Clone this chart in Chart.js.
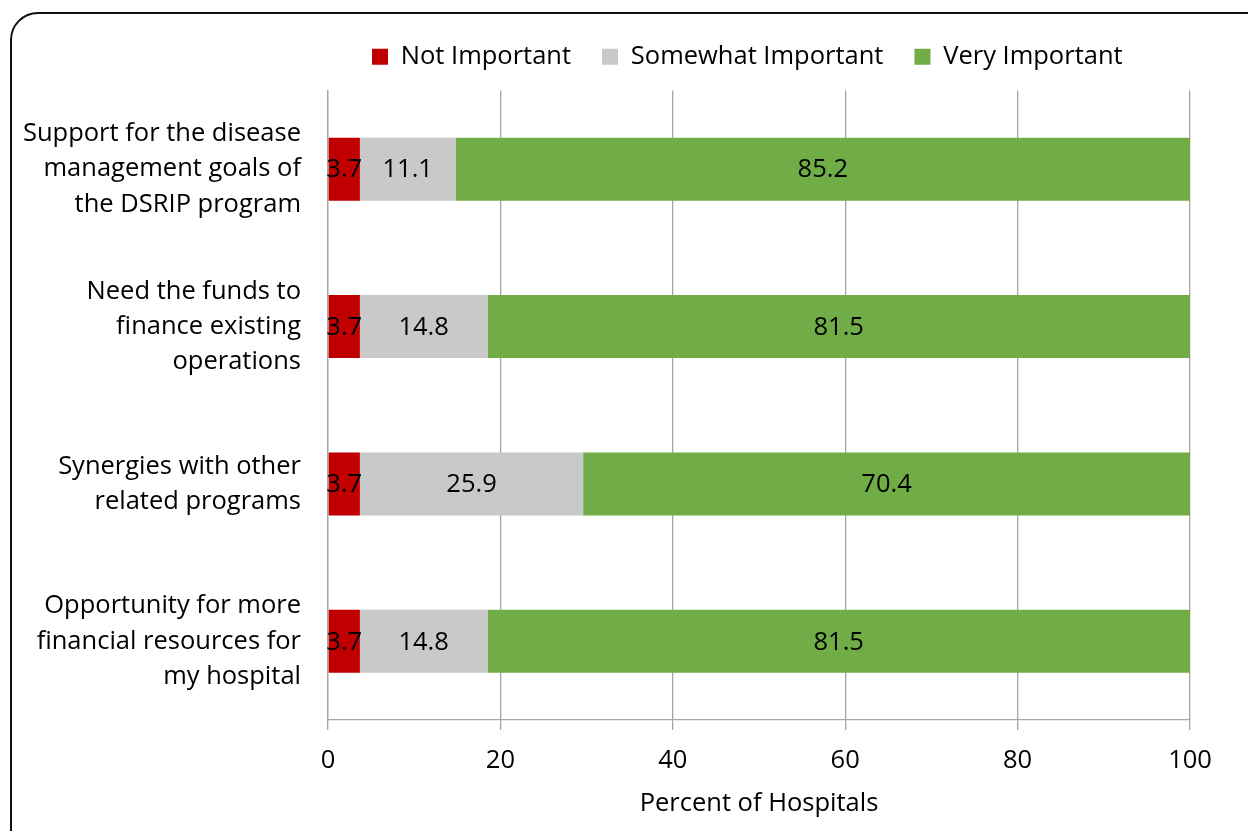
<!DOCTYPE html>
<html>
<head>
<meta charset="utf-8">
<script src="https://cdn.jsdelivr.net/npm/chart.js@4/dist/chart.umd.min.js"></script>
<style>
    html, body { margin: 0; padding: 0; background: #fff; overflow: hidden; }
    #wrap { position: relative; width: 1248px; height: 831px; }
    #frame {
        position: absolute; left: 10px; top: 12px; width: 1270px; height: 850px;
        border: 2px solid #111; border-radius: 28px; box-sizing: border-box;
    }
    #chart { position: absolute; left: 0; top: 0; }
</style>
</head>
<body>
<div id="wrap">
    <div id="frame"></div>
    <canvas id="chart" width="1248" height="831"></canvas>
</div>
<script>
// Chart data
const categories = [
    ["Support for the disease", "management goals of", "the DSRIP program"],
    ["Need the funds to", "finance existing", "operations"],
    ["Synergies with other", "related programs"],
    ["Opportunity for more", "financial resources for", "my hospital"]
];
const notImportant = [3.7, 3.7, 3.7, 3.7];
const somewhatImportant = [11.1, 14.8, 25.9, 14.8];
const veryImportant = [85.2, 81.5, 70.4, 81.5];
const xTicks = [0, 20, 40, 60, 80, 100];

const FONT_SIZE = 25.5;
Chart.defaults.font.family = "'Open Sans', 'Liberation Sans', sans-serif";
Chart.defaults.font.size = FONT_SIZE;
Chart.defaults.color = "#000";

// legend: extra gap below it, and start it where the original one starts
const legendPlace = {
    id: "legendPlace",
    afterInit(chart) {
        const legend = chart.legend;
        if (!legend) return;
        const fit = legend.fit.bind(legend);
        legend.fit = function () {
            fit();
            this.height += 11;
        };
    },
    afterLayout(chart) {
        const legend = chart.legend;
        if (!legend || !legend.lineWidths) return;
        const pad = legend.options.labels.padding;
        // centre alignment puts the first box at (left + pad + right - width) / 2
        legend.left = 2 * 372 - pad - legend.right + legend.lineWidths[0];
    }
};

// value labels centred in each segment
const segmentLabels = {
    id: "segmentLabels",
    afterDatasetsDraw(chart) {
        const ctx = chart.ctx;
        ctx.save();
        ctx.font = FONT_SIZE + "px 'Open Sans', 'Liberation Sans', sans-serif";
        ctx.fillStyle = "#000";
        ctx.textAlign = "center";
        ctx.textBaseline = "middle";
        chart.data.datasets.forEach((ds, i) => {
            chart.getDatasetMeta(i).data.forEach((bar, j) => {
                const v = ds.data[j];
                ctx.fillText(v.toFixed(1), (bar.x + bar.base) / 2, bar.y + 1);
            });
        });
        ctx.restore();
    }
};

function setupChart() {
    const ctx = document.getElementById("chart").getContext("2d");

    new Chart(ctx, {
        type: "bar",
        data: {
            labels: categories,
            datasets: [
                { label: "Not Important", data: notImportant, backgroundColor: "#C00000" },
                { label: "Somewhat Important", data: somewhatImportant, backgroundColor: "#C9C9C9" },
                { label: "Very Important", data: veryImportant, backgroundColor: "#70AD47" }
            ]
        },
        options: {
            indexAxis: "y",
            responsive: false,
            animation: false,
            barPercentage: 0.4,
            categoryPercentage: 1,
            layout: { padding: { top: 13, right: 58, bottom: 0, left: 0 } },
            plugins: {
                legend: {
                    position: "top",
                    labels: {
                        boxWidth: 16,
                        boxHeight: 16,
                        padding: 31,
                        font: { size: FONT_SIZE }
                    }
                },
                tooltip: { enabled: false }
            },
            scales: {
                x: {
                    stacked: true,
                    min: 0,
                    max: 100,
                    afterBuildTicks: (scale) => {
                        scale.ticks = xTicks.map(v => ({ value: v }));
                    },
                    afterFit: (scale) => { scale.height = 111; },
                    grid: { color: "#A6A6A6", lineWidth: 1.3, tickLength: 10 },
                    border: { color: "#A6A6A6", width: 1.3 },
                    ticks: { padding: 15, font: { size: FONT_SIZE } },
                    title: {
                        display: true,
                        text: "Percent of Hospitals",
                        font: { size: FONT_SIZE },
                        padding: { top: 0, bottom: 12 }
                    }
                },
                y: {
                    stacked: true,
                    afterFit: (scale) => { scale.width = 328; },
                    grid: { display: false },
                    border: { display: true, color: "#A6A6A6", width: 1.3 },
                    ticks: { padding: 19, font: { size: FONT_SIZE, lineHeight: 1.38 } }
                }
            }
        },
        plugins: [legendPlace, segmentLabels]
    });
}

setupChart();
</script>
</body>
</html>
